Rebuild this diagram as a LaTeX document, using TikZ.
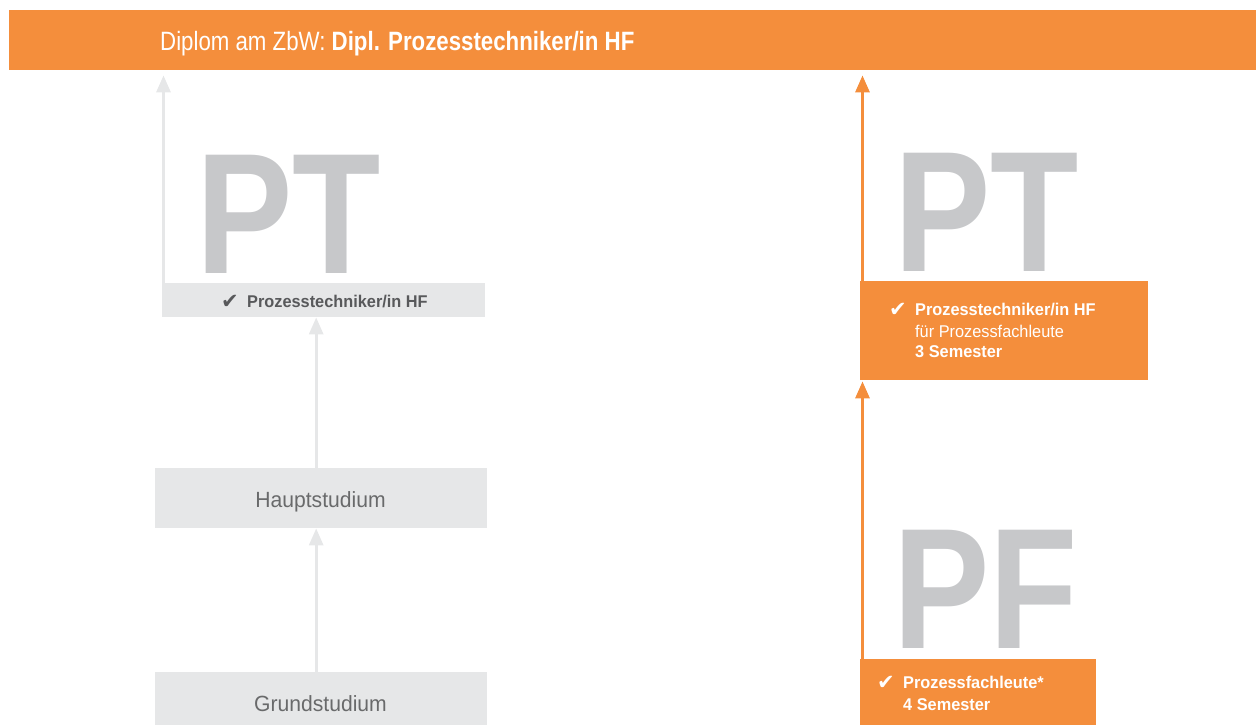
\documentclass[tikz,border=0pt]{standalone}
\usepackage{fontspec}
\setmainfont{Liberation Sans}[FakeStretch=0.84]
\newfontfamily\widefont{Liberation Sans}[FakeStretch=0.96]
\newfontfamily\symfont{DejaVu Sans}
\usetikzlibrary{calc, positioning, arrows.meta}
\definecolor{zbworange}{HTML}{F48E3C}
\definecolor{boxgray}{HTML}{E6E7E8}
\definecolor{lettergray}{HTML}{C7C8CA}
\definecolor{textgray}{HTML}{58595B}
\tikzstyle{box}=[rectangle, inner sep=0pt, anchor=north west]
\tikzstyle{bigletters}=[inner sep=0pt, anchor=base west, text=lettergray, font=\fontsize{172}{172}\selectfont\bfseries]
\tikzstyle{label}=[inner sep=0pt, anchor=base west]
\tikzstyle{small}=[label, font=\widefont\fontsize{17}{20}\selectfont]
\tikzstyle{smallbold}=[label, font=\widefont\fontsize{17}{20}\selectfont\bfseries]
\tikzstyle{arrowline}=[line width=3pt, -{Triangle[length=17pt,width=14pt]}]
\newcommand{\chk}{\makebox[26pt][l]{\raisebox{-1.5pt}{\symfont\fontsize{21}{21}\selectfont ✔}}}

\begin{document}
\begin{tikzpicture}[x=1pt, y=-1pt]
\useasboundingbox (0,0) rectangle (1256,724);
\node[box, fill=zbworange, minimum width=1247, minimum height=60] (banner) at (9,10){};
\node[label, text=white, font=\fontsize{26.5}{30}\selectfont] (title) at (160,50){Diplom am ZbW: \textbf{Dipl. Prozesstechniker/in HF}};

\node[box, fill=boxgray, minimum width=323, minimum height=34] (ptbox) at (162,283){};
\node[box, fill=boxgray, minimum width=332, minimum height=60] (hauptbox) at (155,468){};
\node[box, fill=boxgray, minimum width=332, minimum height=60] (grundbox) at (155,672){};
\node[bigletters] (ptleft) at (196,273){PT};
\node[smallbold, text=textgray] (pttext) at (221,307){\chk Prozesstechniker/in HF};
\node[label, anchor=base, text=textgray!90, font=\widefont\fontsize{22}{26}\selectfont] (haupttext) at (320.5,507){Hauptstudium};
\node[label, anchor=base, text=textgray!90, font=\widefont\fontsize{22}{26}\selectfont] (grundtext) at (320.5,711){Grundstudium};

\coordinate (lstart) at ($(ptbox.north west)+(1.5,0)$);
\coordinate (mid1) at ($(hauptbox.north)+(-5,0)$);
\coordinate (mid2) at ($(grundbox.north)+(-5,0)$);
\draw[arrowline, boxgray, shorten >=5pt] (lstart) -- (lstart |- banner.south);
\draw[arrowline, boxgray] (mid1) -- (mid1 |- ptbox.south);
\draw[arrowline, boxgray] (mid2) -- (mid2 |- hauptbox.south);

\node[box, fill=zbworange, minimum width=288, minimum height=99] (ptrbox) at (860,281){};
\node[box, fill=zbworange, minimum width=236, minimum height=70] (pfbox) at (860,659){};
\node[bigletters] (ptright) at (894,271){PT};
\node[bigletters] (pfright) at (893,648){PF};
\node[smallbold, text=white] (ptrtext) at (889,315){\chk Prozesstechniker/in HF};
\node[small, text=white] (ptrsub) at (915,337){für Prozessfachleute};
\node[smallbold, text=white] (ptrsem) at (915,357){3 Semester};
\node[smallbold, text=white] (pftext) at (877,688){\chk Prozessfachleute*};
\node[smallbold, text=white] (pfsem) at (903,710){4 Semester};

\coordinate (rtop) at ($(ptrbox.north west)+(2.5,0)$);
\coordinate (rbot) at ($(pfbox.north west)+(2.5,0)$);
\draw[arrowline, zbworange, shorten >=5pt] (rtop) -- (rtop |- banner.south);
\draw[arrowline, zbworange, shorten >=1pt] (rbot) -- (rbot |- ptrbox.south);
\end{tikzpicture}
\end{document}
